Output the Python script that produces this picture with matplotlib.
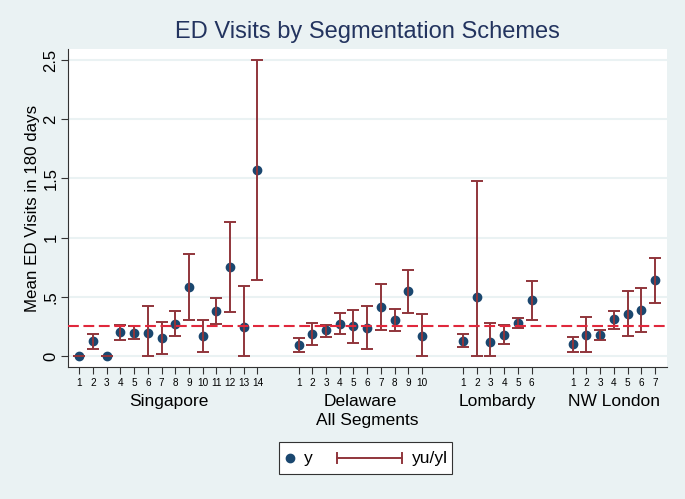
import matplotlib
matplotlib.use("Agg")
import matplotlib.pyplot as plt
from matplotlib.lines import Line2D
from matplotlib.patches import Rectangle
import matplotlib.transforms as mtransforms
import numpy as np

plt.rcParams['font.family'] = ['Liberation Sans', 'DejaVu Sans']

groups = ["Singapore", "Delaware", "Lombardy", "NW London"]
group_sizes = [14, 10, 6, 7]

sg_y  = [0.0, 0.124, 0.0, 0.20, 0.197, 0.197, 0.152, 0.273, 0.583, 0.169, 0.383, 0.749, 0.248, 1.574]
sg_yu = [0.0, 0.183, 0.0, 0.262, 0.253, 0.422, 0.284, 0.377, 0.864, 0.307, 0.490, 1.129, 0.594, 2.50]
sg_yl = [0.0, 0.062, 0.0, 0.138, 0.140, 0.0, 0.017, 0.169, 0.307, 0.031, 0.270, 0.369, 0.0, 0.645]

de_y  = [0.093, 0.189, 0.217, 0.270, 0.251, 0.239, 0.414, 0.304, 0.549, 0.166]
de_yu = [0.152, 0.279, 0.265, 0.360, 0.386, 0.420, 0.611, 0.400, 0.726, 0.351]
de_yl = [0.034, 0.096, 0.158, 0.189, 0.107, 0.059, 0.217, 0.211, 0.366, 0.0]

lo_y  = [0.129, 0.498, 0.115, 0.180, 0.282, 0.470]
lo_yu = [0.183, 1.478, 0.279, 0.259, 0.321, 0.633]
lo_yl = [0.076, 0.0, 0.0, 0.098, 0.236, 0.300]

nw_y  = [0.098, 0.180, 0.175, 0.310, 0.357, 0.386, 0.639]
nw_yu = [0.158, 0.326, 0.217, 0.383, 0.546, 0.574, 0.825]
nw_yl = [0.037, 0.031, 0.138, 0.231, 0.171, 0.200, 0.450]

overall_mean = 0.25
legend_labels = ['y', 'yu/yl']

ys = [sg_y, de_y, lo_y, nw_y]
yus = [sg_yu, de_yu, lo_yu, nw_yu]
yls = [sg_yl, de_yl, lo_yl, nw_yl]

bg = '#EAF2F3'
navy = '#1a476f'
maroon = '#90353b'
red = '#e0283c'

W, H = 685, 499
fig = plt.figure(figsize=(6.85, 4.99), dpi=100, facecolor=bg)
ax = fig.add_axes([68/W, 1-367/H, (667-68)/W, (367-49)/H])
ax.set_facecolor('white')

gap = 2
pos = 1
all_x, all_y, all_u, all_l, ticklabels, centers = [], [], [], [], [], []
for g, n, y, yu, yl in zip(groups, group_sizes, ys, yus, yls):
    xs = list(range(pos, pos + n))
    all_x += xs; all_y += y; all_u += yu; all_l += yl
    ticklabels += [str(i) for i in range(1, n + 1)]
    centers.append((xs[0] + xs[-1]) / 2)
    pos += n + gap

all_x = np.array(all_x); all_y = np.array(all_y)
all_u = np.array(all_u); all_l = np.array(all_l)

for yv in [0, 0.5, 1, 1.5, 2, 2.5]:
    ax.axhline(yv, color=bg, lw=1.5, zorder=0)

ax.plot(all_x, all_y, 'o', color=navy, ms=6, zorder=2)
ax.vlines(all_x, all_l, all_u, color=maroon, lw=1.4, zorder=3)
ax.plot(all_x, all_u, '_', color=maroon, ms=8, mew=1.4, zorder=3)
ax.plot(all_x, all_l, '_', color=maroon, ms=8, mew=1.4, zorder=3)
ax.axhline(overall_mean, color=red, lw=1.5, ls=(0, (5.2, 2.2)), zorder=4)

ax.set_xlim(0.175, 43.88)
ax.set_ylim(-0.093, 2.593)
ax.set_xticks(all_x)
ax.set_xticklabels(ticklabels, fontsize=7.2)
ax.set_yticks([0, 0.5, 1, 1.5, 2, 2.5])
ax.set_yticklabels(['0', '.5', '1', '1.5', '2', '2.5'], fontsize=12, rotation=90, va='center')
ax.tick_params(axis='both', direction='out', length=5, width=0.8, color='#333333')
ax.tick_params(axis='x', pad=3)
ax.tick_params(axis='y', pad=2)
for s in ['top', 'right']:
    ax.spines[s].set_visible(False)
for s in ['left', 'bottom']:
    ax.spines[s].set_color('#333333')
    ax.spines[s].set_linewidth(0.8)

trans = mtransforms.blended_transform_factory(ax.transData, ax.transAxes)
for c, g in zip(centers, groups):
    ax.text(c, (367-401.5)/318, g, transform=trans, ha='center', va='center',
            fontsize=12.5, clip_on=False)

ax.text(0.5, (367-421)/318, 'All Segments', transform=ax.transAxes, ha='center',
        va='center', fontsize=12.5)
ax.text((33-68)/599, 0.5, 'Mean ED Visits in 180 days', transform=ax.transAxes,
        ha='center', va='center', rotation=90, fontsize=12.2)

fig.text(367.5/W, 1-32/H, 'ED Visits by Segmentation Schemes', ha='center', va='center',
         fontsize=17, color='#23345f')

# legend drawn manually in figure pixel coordinates
def fx(px):
    return px / W

def fy(py):
    return 1 - py / H

fig.add_artist(Rectangle((fx(279), fy(474)), fx(452) - fx(279), fy(442) - fy(474),
                         transform=fig.transFigure, facecolor='white', edgecolor='#333333',
                         lw=0.8))
ly = 458
fig.add_artist(Line2D([fx(290)], [fy(ly)], marker='o', color=navy, ms=6, ls='none',
                      transform=fig.transFigure))
fig.text(fx(304), fy(ly), legend_labels[0], ha='left', va='center', fontsize=12.5)
fig.add_artist(Line2D([fx(337), fx(402)], [fy(ly), fy(ly)], color=maroon, lw=1.4,
                      transform=fig.transFigure))
for cx in (337, 402):
    fig.add_artist(Line2D([fx(cx), fx(cx)], [fy(ly - 5), fy(ly + 5)], color=maroon, lw=1.4,
                          transform=fig.transFigure))
fig.text(fx(412), fy(ly), legend_labels[1], ha='left', va='center', fontsize=12.5)

fig.savefig('out.png', dpi=100, facecolor=bg)
